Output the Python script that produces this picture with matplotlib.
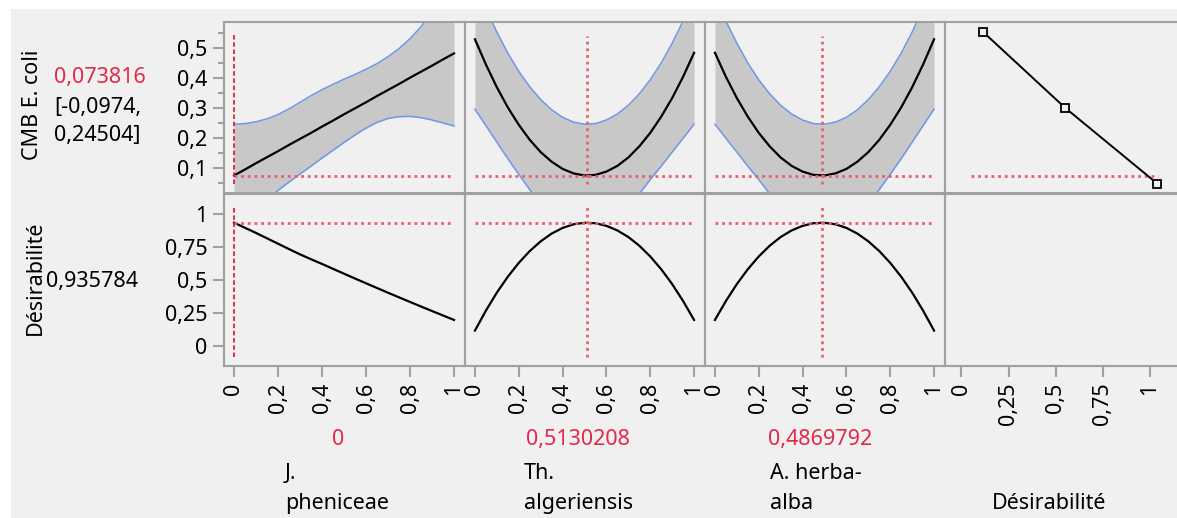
import matplotlib
matplotlib.use('Agg')
import matplotlib.pyplot as plt
from matplotlib.patches import Rectangle

plt.rcParams['font.family'] = ['Noto Sans', 'DejaVu Sans']
plt.rcParams['font.size'] = 15.5

# grille des proportions de chaque composant
x_grid = [0, 0.05, 0.1, 0.15, 0.2, 0.25, 0.3, 0.35, 0.4, 0.45, 0.5,
          0.55, 0.6, 0.65, 0.7, 0.75, 0.8, 0.85, 0.9, 0.95, 1]

# CMB E. coli : prédiction et intervalle de confiance pour chaque facteur
pred_jp = [0.074, 0.094, 0.115, 0.135, 0.155, 0.176, 0.196, 0.216, 0.237, 0.257, 0.278,
           0.298, 0.318, 0.339, 0.359, 0.379, 0.400, 0.420, 0.440, 0.461, 0.481]
upper_jp = [0.245, 0.247, 0.253, 0.263, 0.277, 0.296, 0.318, 0.340, 0.360, 0.378, 0.395,
            0.411, 0.428, 0.447, 0.470, 0.497, 0.530, 0.570, 0.618, 0.668, 0.720]
lower_jp = [-0.097, -0.068, -0.037, -0.006, 0.024, 0.052, 0.079, 0.105, 0.132, 0.158, 0.184,
            0.209, 0.232, 0.251, 0.264, 0.270, 0.271, 0.267, 0.259, 0.249, 0.239]

pred_ta = [0.528, 0.444, 0.368, 0.301, 0.243, 0.193, 0.152, 0.120, 0.096, 0.081, 0.074,
           0.076, 0.087, 0.106, 0.134, 0.171, 0.216, 0.270, 0.332, 0.403, 0.483]
upper_ta = [0.719, 0.631, 0.552, 0.482, 0.421, 0.370, 0.327, 0.293, 0.268, 0.252, 0.245,
            0.247, 0.259, 0.279, 0.308, 0.346, 0.393, 0.449, 0.515, 0.589, 0.672]
lower_ta = [0.295, 0.240, 0.185, 0.130, 0.078, 0.027, -0.020, -0.055, -0.078, -0.092, -0.097,
            -0.095, -0.085, -0.065, -0.035, 0.013, 0.060, 0.105, 0.152, 0.198, 0.245]

pred_ah = [0.483, 0.403, 0.332, 0.270, 0.216, 0.171, 0.134, 0.106, 0.087, 0.076, 0.074,
           0.081, 0.096, 0.120, 0.152, 0.193, 0.243, 0.301, 0.368, 0.444, 0.528]
upper_ah = [0.672, 0.589, 0.515, 0.449, 0.393, 0.346, 0.308, 0.279, 0.259, 0.247, 0.245,
            0.252, 0.268, 0.293, 0.327, 0.370, 0.421, 0.482, 0.552, 0.631, 0.719]
lower_ah = [0.245, 0.198, 0.152, 0.105, 0.060, 0.013, -0.035, -0.065, -0.085, -0.095, -0.097,
            -0.092, -0.078, -0.055, -0.020, 0.027, 0.078, 0.130, 0.185, 0.240, 0.295]

# désirabilité le long de chaque facteur
des_jp = [0.936, 0.897, 0.858, 0.817, 0.776, 0.735, 0.695, 0.658, 0.622, 0.585, 0.548,
          0.511, 0.475, 0.439, 0.403, 0.368, 0.333, 0.298, 0.264, 0.230, 0.196]
des_ta = [0.115, 0.267, 0.404, 0.525, 0.630, 0.720, 0.794, 0.853, 0.896, 0.924, 0.935,
          0.932, 0.912, 0.877, 0.827, 0.761, 0.679, 0.582, 0.469, 0.340, 0.196]
des_ah = [0.196, 0.340, 0.469, 0.582, 0.679, 0.761, 0.827, 0.877, 0.912, 0.932, 0.935,
          0.924, 0.896, 0.853, 0.794, 0.720, 0.630, 0.525, 0.404, 0.267, 0.115]

# fonction de désirabilité (CMB E. coli en fonction de la désirabilité)
desir_x = [0.114, 0.55, 1.04]
desir_y = [0.553, 0.30, 0.047]

factor_names = ['J.\npheniceae', 'Th.\nalgeriensis', 'A. herba-\nalba']
factor_now = [0, 0.5130208, 0.4869792]
factor_now_txt = ['0', '0,5130208', '0,4869792']
pred_now = 0.073816
des_now = 0.935784

W, H = 1177, 518
RED = '#e8606e'
RED_TXT = '#e3294a'
BLUE = '#6f96e8'
FRAME = '#a0a0a0'

fig = plt.figure(figsize=(W / 100, H / 100), dpi=100, facecolor='white')
fig.patches.append(Rectangle((11 / W, 0), 1, 1 - 9 / H, transform=fig.transFigure,
                             facecolor='#f0f0f0', edgecolor='none', zorder=-10))

col_edges = [224, 465, 705, 945, 1186]
row_edges = [22, 193.5, 366]


def px_axes(left, top, right, bottom):
    ax = fig.add_axes([left / W, 1 - bottom / H, (right - left) / W, (bottom - top) / H])
    ax.set_facecolor('none')
    for s in ax.spines.values():
        s.set_color(FRAME)
        s.set_linewidth(1.5)
    ax.tick_params(which='both', direction='out', color=FRAME, width=1.5,
                   labelsize=15.5, length=8, pad=4)
    ax.tick_params(which='minor', length=4)
    ax.set_xticks([])
    ax.set_yticks([])
    return ax


def red_line(ax, xs, ys, color=RED, dashes=(1, 1.4), lw=2):
    ax.plot(xs, ys, color=color, lw=lw, dashes=dashes, zorder=4)


preds = [pred_jp, pred_ta, pred_ah]
uppers = [upper_jp, upper_ta, upper_ah]
lowers = [lower_jp, lower_ta, lower_ah]
desirs = [des_jp, des_ta, des_ah]

x_ticks = [0, 0.2, 0.4, 0.6, 0.8, 1]
x_labels = ['0', '0,2', '0,4', '0,6', '0,8', '1']

for i in range(3):
    # ligne du haut : CMB E. coli
    ax = px_axes(col_edges[i], row_edges[0], col_edges[i + 1], row_edges[1])
    ax.set_xlim(-10 / 220, 231 / 220)
    ax.set_ylim(0.014, 0.5857)
    ax.fill_between(x_grid, lowers[i], uppers[i], color='#c8c8c8', lw=0, zorder=1)
    ax.plot(x_grid, uppers[i], color=BLUE, lw=1.1, zorder=2)
    ax.plot(x_grid, lowers[i], color=BLUE, lw=1.1, zorder=2)
    ax.plot(x_grid, preds[i], color='black', lw=1.6, zorder=3)
    red_line(ax, [0, 1], [pred_now, pred_now])
    if i == 0:
        red_line(ax, [factor_now[i]] * 2, [0.045, 0.542], color='#e0203a',
                 dashes=(2.5, 1.5), lw=1.3)
        ax.set_yticks([0.1, 0.2, 0.3, 0.4, 0.5])
        ax.set_yticklabels(['0,1', '0,2', '0,3', '0,4', '0,5'])
        ax.set_yticks([0.05, 0.15, 0.25, 0.35, 0.45, 0.55], minor=True)
    else:
        red_line(ax, [factor_now[i]] * 2, [0.045, 0.54])

    # ligne du bas : désirabilité
    ax = px_axes(col_edges[i], row_edges[1], col_edges[i + 1], row_edges[2])
    ax.set_xlim(-10 / 220, 231 / 220)
    ax.set_ylim(-0.1545, 1.158)
    ax.plot(x_grid, desirs[i], color='black', lw=1.6, zorder=3)
    red_line(ax, [0, 1], [des_now, des_now])
    if i == 0:
        red_line(ax, [factor_now[i]] * 2, [-0.084, 1.053], color='#e0203a',
                 dashes=(2.5, 1.5), lw=1.3)
        ax.set_yticks([0, 0.25, 0.5, 0.75, 1])
        ax.set_yticklabels(['0', '0,25', '0,5', '0,75', '1'])
    else:
        red_line(ax, [factor_now[i]] * 2, [-0.084, 1.053])
    ax.set_xticks(x_ticks)
    ax.set_xticklabels(x_labels, rotation=90)

# colonne désirabilité
ax = px_axes(col_edges[3], row_edges[0], col_edges[4], row_edges[1])
ax.set_xlim(-16.5 / 188.2, (1186 - 961.5) / 188.2)
ax.set_ylim(0.014, 0.5857)
red_line(ax, [0.049, 1.045], [pred_now, pred_now])
ax.plot(desir_x, desir_y, color='black', lw=1.4, marker='s', ms=6,
        mfc='#f0f0f0', mec='black', mew=1.3, zorder=5)

ax = px_axes(col_edges[3], row_edges[1], col_edges[4], row_edges[2])
ax.set_xlim(-16.5 / 188.2, (1186 - 961.5) / 188.2)
ax.set_ylim(-0.1545, 1.158)
ax.set_xticks([0, 0.25, 0.5, 0.75, 1])
ax.set_xticklabels(['0', '0,25', '0,5', '0,75', '1'], rotation=90)

# libellés des réponses
fig.text(32 / W, 1 - 105 / H, 'CMB E. coli', rotation=90, ha='center', va='center')
fig.text(54 / W, 1 - 77 / H, '0,073816', color=RED_TXT, ha='left', va='center')
fig.text(54 / W, 1 - 107 / H, '[-0,0974,', ha='left', va='center')
fig.text(54 / W, 1 - 136 / H, '0,24504]', ha='left', va='center')
fig.text(35 / W, 1 - 278 / H, 'Désirabilité', rotation=90, ha='center', va='center')
fig.text(46 / W, 1 - 281 / H, '0,935784', ha='left', va='center')

# valeurs courantes et noms des facteurs
now_x = [338, 578, 820]
name_x = [285, 524, 770]
for i in range(3):
    fig.text(now_x[i] / W, 1 - 445 / H, factor_now_txt[i], color=RED_TXT,
             ha='center', va='baseline')
    first, second = factor_names[i].split('\n')
    fig.text(name_x[i] / W, 1 - 479 / H, first, ha='left', va='baseline')
    fig.text(name_x[i] / W, 1 - 509 / H, second, ha='left', va='baseline')
fig.text(992 / W, 1 - 509 / H, 'Désirabilité', ha='left', va='baseline')

plt.savefig('out.png', dpi=100, facecolor=fig.get_facecolor())
